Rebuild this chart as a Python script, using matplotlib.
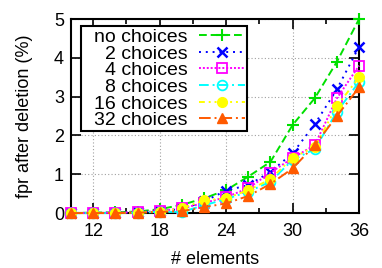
import matplotlib as mpl
mpl.use("Agg")
import matplotlib.pyplot as plt
from matplotlib.patches import Rectangle
from matplotlib.ticker import MultipleLocator

mpl.rcParams['font.family'] = ['Liberation Sans', 'DejaVu Sans']
mpl.rcParams['font.size'] = 13

# number of elements
elements = [10, 12, 14, 16, 18, 20, 22, 24, 26, 28, 30, 32, 34, 36]

no_choices = [0.0, 0.01, 0.02, 0.04, 0.1, 0.21, 0.38, 0.59, 0.94, 1.32, 2.27, 2.96, 3.9, 5.0]
choices_2 = [0.0, 0.0, 0.01, 0.02, 0.06, 0.1, 0.3, 0.58, 0.72, 1.06, 1.54, 2.29, 3.19, 4.29]
choices_4 = [0.0, 0.0, 0.01, 0.02, 0.05, 0.12, 0.26, 0.41, 0.64, 1.04, 1.42, 1.75, 2.96, 3.8]
choices_8 = [0.0, 0.0, 0.0, 0.01, 0.03, 0.03, 0.2, 0.36, 0.55, 0.81, 1.37, 1.65, 2.61, 3.38]
choices_16 = [0.0, 0.0, 0.0, 0.01, 0.04, 0.12, 0.33, 0.38, 0.59, 0.87, 1.43, 1.7, 2.76, 3.5]
choices_32 = [0.0, 0.0, 0.0, 0.01, 0.03, 0.05, 0.15, 0.25, 0.44, 0.75, 1.15, 1.75, 2.5, 3.24]

labels = ["no choices", "2 choices", "4 choices", "8 choices", "16 choices", "32 choices"]
series = [no_choices, choices_2, choices_4, choices_8, choices_16, choices_32]

styles = [
    dict(color="#00e000", ls=(0, (4, 2)), marker="+", ms=8, mew=1.5),
    dict(color="#0000ff", ls=(0, (1, 2.5)), marker="x", ms=7, mew=1.8),
    dict(color="#ff00ff", ls=(0, (1, 1)), marker="s", ms=7, mfc="none", mew=1.3),
    dict(color="#00ffff", ls=(0, (5, 2, 1, 2)), marker="o", ms=7, mfc="none", mew=1.3),
    dict(color="#ffff00", ls=(0, (3, 2, 1, 2, 1, 2)), marker="o", ms=7),
    dict(color="#ff5a00", ls=(0, (6, 2, 1, 2)), marker="^", ms=7),
]

fig = plt.figure(figsize=(3.82, 2.68), dpi=100)
ax = fig.add_axes([0.186, 0.205, 0.754, 0.724])

for ys, lab, st in zip(series, labels, styles):
    ax.plot(elements, ys, lw=1.4, label=lab, clip_on=False, zorder=3, **st)

ax.set_xlim(10, 36)
ax.set_ylim(0, 5)
ax.xaxis.set_major_locator(MultipleLocator(6))
ax.xaxis.set_minor_locator(MultipleLocator(3))
ax.yaxis.set_major_locator(MultipleLocator(1))
ax.tick_params(which="both", direction="in", top=True, right=True, width=1.2, labelsize=13)
ax.tick_params(which="major", length=7)
ax.tick_params(axis="x", which="major", pad=7)
ax.tick_params(axis="y", which="major", pad=5)
ax.tick_params(which="minor", length=3.5)
ax.grid(True, which="major", color="#a0a0a0", ls=(0, (1, 2)), lw=0.8)
for s in ax.spines.values():
    s.set_linewidth(1.5)

ax.set_xlabel("# elements", fontsize=13, labelpad=8)
ax.set_ylabel("fpr after deletion (%)", fontsize=13)
ax.yaxis.set_label_coords(-0.132, 0.5)

# key in gnuplot style: text right-aligned, sample on the right
leg = ax.legend(loc="upper right", bbox_to_anchor=(0.612, 0.962), markerfirst=False,
                frameon=False, handlelength=2.4, labelspacing=-0.05, borderpad=0.1,
                handletextpad=0.57, fontsize=14, borderaxespad=0)
leg.set_zorder(6)

fig.canvas.draw()
bb = leg.get_window_extent().transformed(ax.transAxes.inverted())
x0 = 0.035
box = Rectangle((x0, bb.y0), bb.x1 - x0, bb.height, transform=ax.transAxes,
                facecolor="white", edgecolor="black", lw=1.5, zorder=5)
ax.add_patch(box)

fig.savefig("out.png", dpi=100)
